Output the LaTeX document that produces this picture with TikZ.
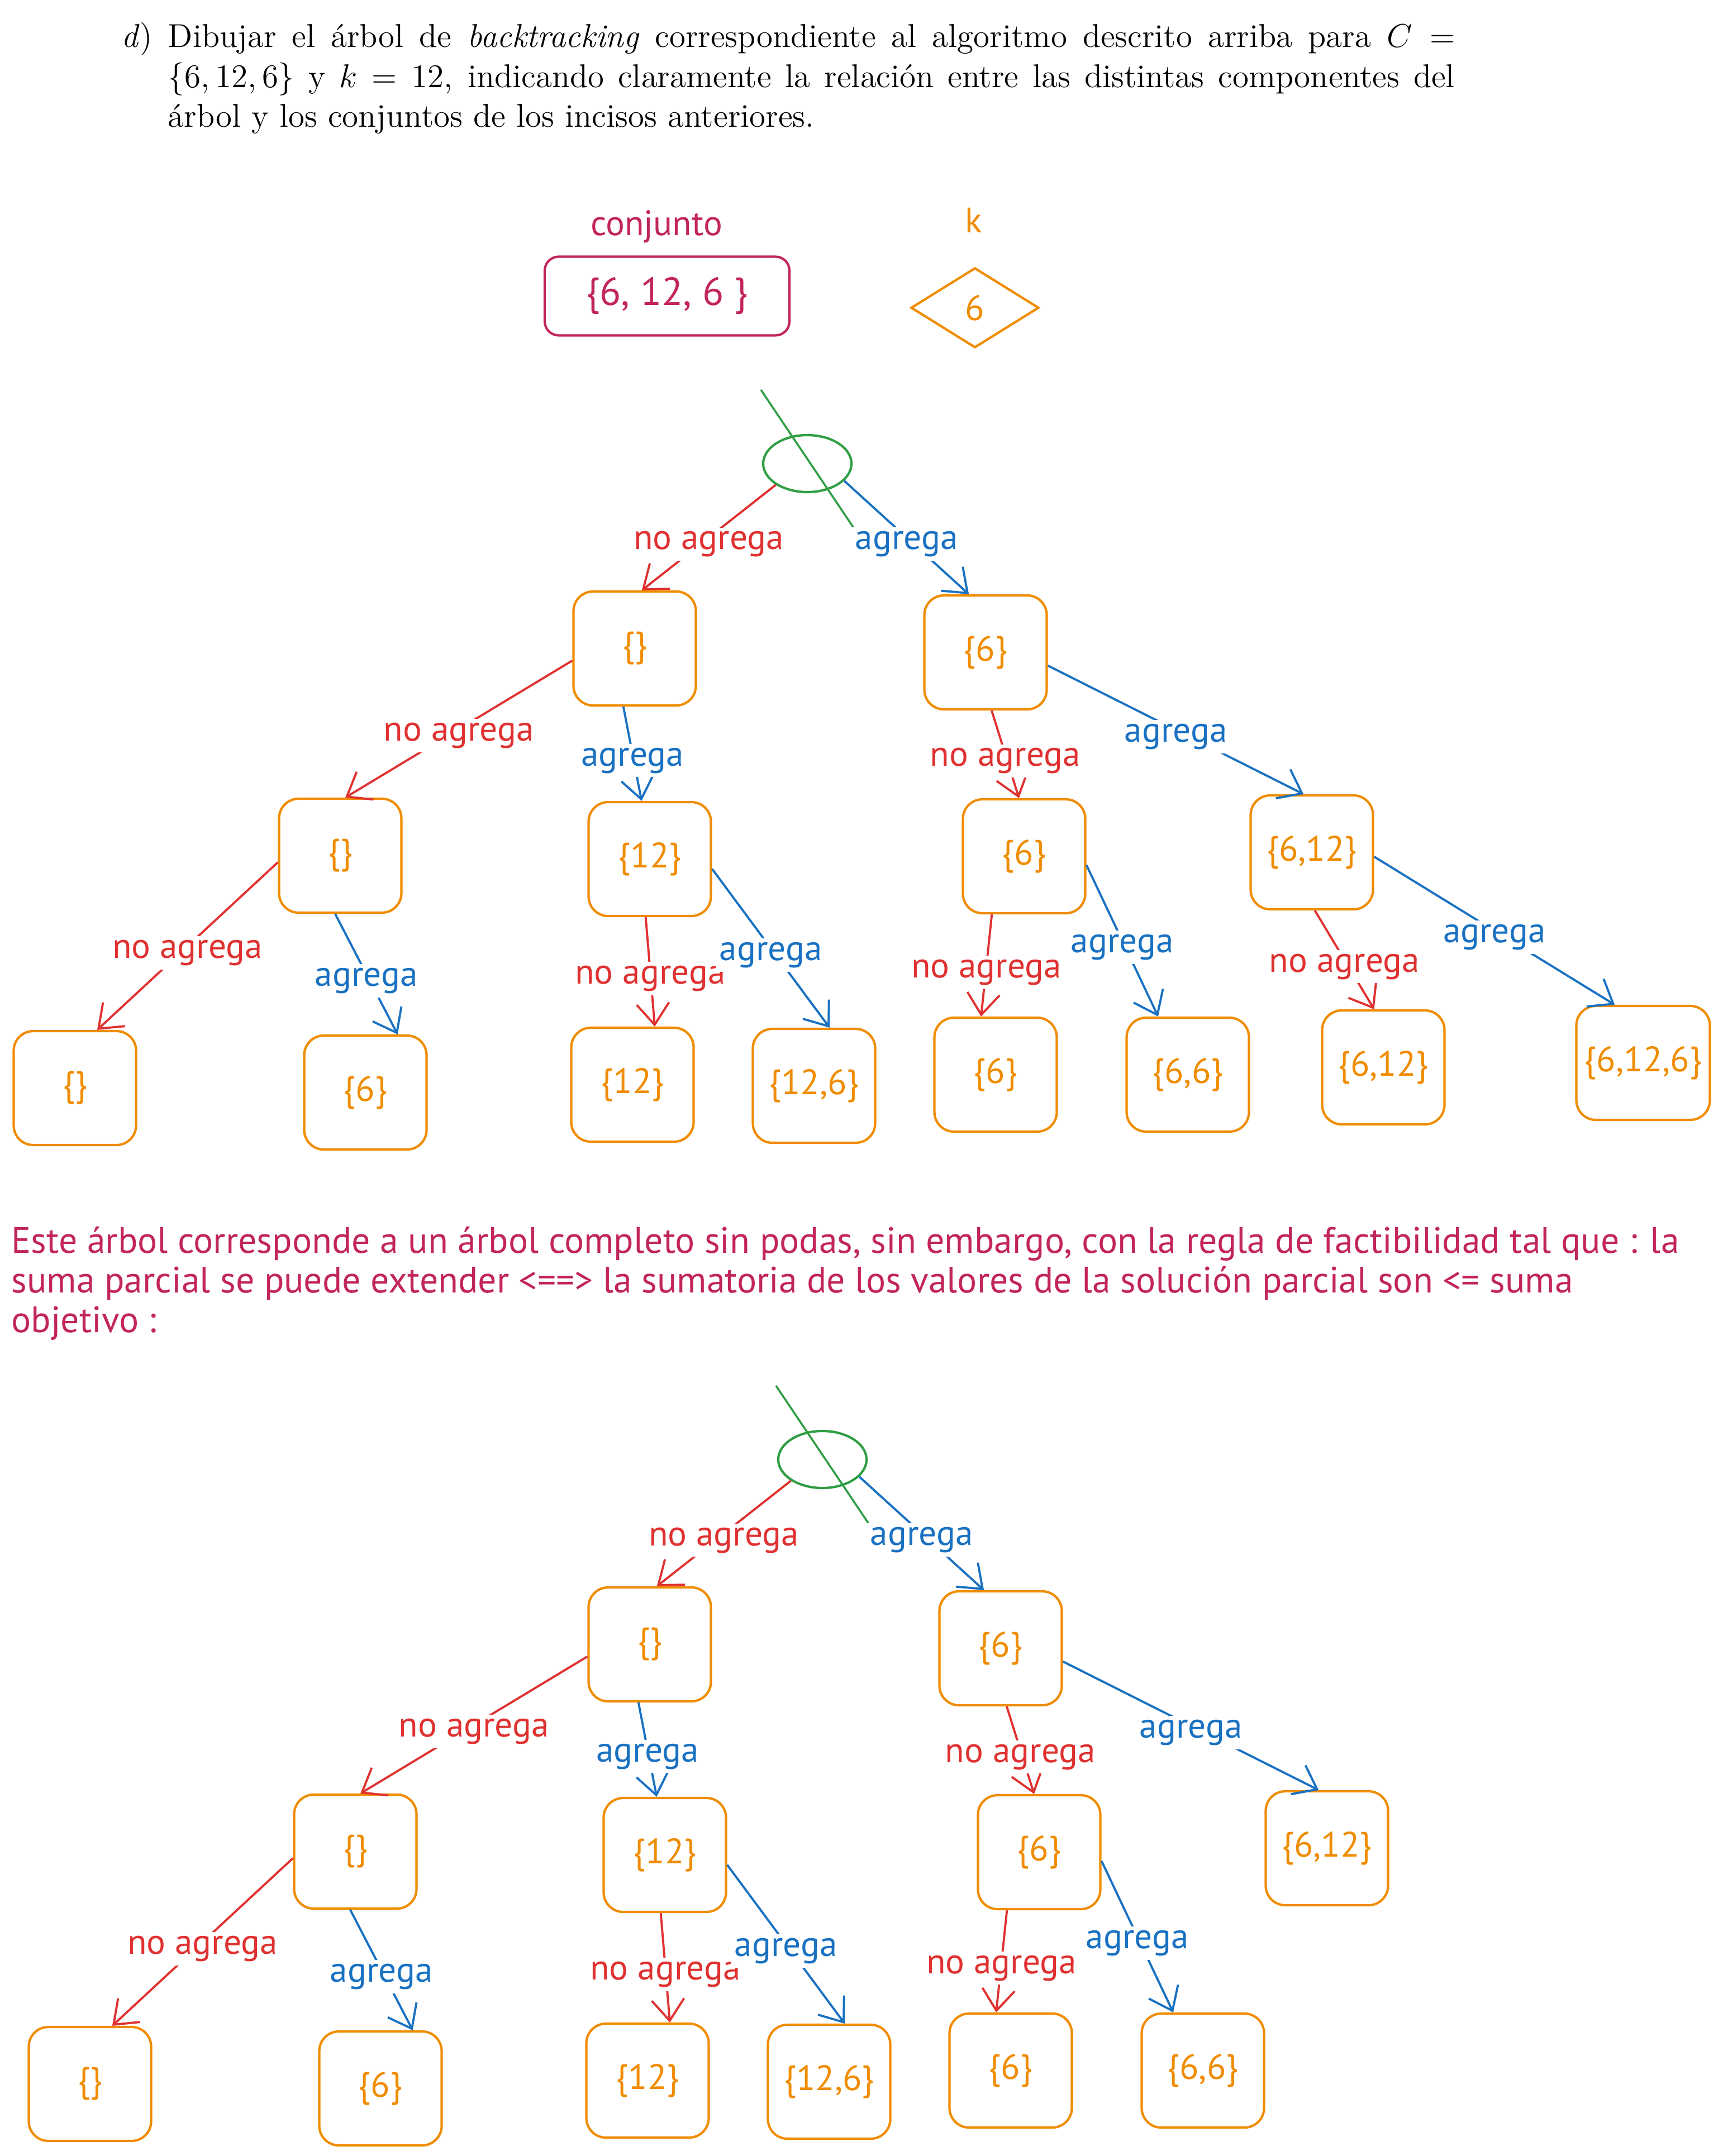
\documentclass[tikz,border=0pt]{standalone}
\usepackage{fontspec}
\newfontfamily\manoalzada{PT Sans}
\usetikzlibrary{arrows.meta,shapes.geometric}
\definecolor{rosa}{HTML}{C2255C}
\definecolor{naranja}{HTML}{F08C00}
\definecolor{rojo}{HTML}{E03131}
\definecolor{azul}{HTML}{1971C2}
\definecolor{verde}{HTML}{2F9E44}
\tikzset{
  caja/.style={draw=naranja,text=naranja,rounded corners=0.35cm,line width=1.2pt,
    minimum width=2.19cm,minimum height=2.04cm,font=\manoalzada\fontsize{18}{20}\selectfont},
  raiz/.style={ellipse,draw=verde,line width=1.2pt,minimum width=1.58cm,minimum height=1.02cm},
  tachado/.style={draw=verde,line width=1pt},
  etiq/.style={fill=white,inner sep=2pt,yshift=-0.12cm,font=\manoalzada\fontsize{18}{20}\selectfont},
  punta/.style={-{Straight Barb[length=3.8mm,width=5.8mm]}},
  noagrega/.style={draw=rojo,line width=1.1pt,punta},
  agrega/.style={draw=azul,line width=1.1pt,punta},
  enunc/.style={inner sep=0,scale=1.4,transform shape,font=\fontsize{12}{14.5}\selectfont}
}
% arbol de backtracking: #1 prefijo de los nombres
\newcommand{\arbolBT}[1]{%
  \node[raiz] (#1r) at (14.45,-8.30) {};
  \coordinate (#1t1) at (13.62,-6.98);
  \coordinate (#1t2) at (15.32,-9.51);
  \draw[tachado] (#1t1) -- (#1t2);
  \node[caja] (#10) at (11.36,-11.61) {\{\}};
  \node[caja] (#11) at (17.64,-11.68) {\{6\}};
  \node[caja] (#100) at (6.09,-15.32) {\{\}};
  \node[caja] (#101) at (11.63,-15.38) {\{12\}};
  \node[caja] (#110) at (18.33,-15.33) {\{6\}};
  \node[caja] (#111) at (23.48,-15.26) {\{6,12\}};
  \node[caja] (#1000) at (1.34,-19.48) {\{\}};
  \node[caja] (#1001) at (6.54,-19.56) {\{6\}};
  \node[caja] (#1010) at (11.32,-19.42) {\{12\}};
  \node[caja] (#1011) at (14.57,-19.44) {\{12,6\}};
  \node[caja] (#1100) at (17.82,-19.24) {\{6\}};
  \node[caja] (#1101) at (21.26,-19.24) {\{6,6\}};
  \draw[noagrega] (#1r.214) -- node[etiq,text=rojo]{no agrega} (#10.83);
  \draw[agrega] (#1r.335) -- node[etiq,text=azul]{agrega} (#11.106);
  \draw[noagrega] (#10.191) -- node[etiq,text=rojo]{no agrega} (#100.85);
  \draw[agrega] (#10.259) -- node[etiq,text=azul]{agrega} (#101.98);
  \draw[noagrega] (#11.276) -- node[etiq,text=rojo]{no agrega} (#110.95);
  \draw[agrega] (#11.348) -- node[etiq,text=azul]{agrega} (#111.98);
  \draw[noagrega] (#100.186) -- node[etiq,text=rojo]{no agrega} (#1000.69);
  \draw[agrega] (#100.265) -- node[etiq,text=azul]{agrega} (#1001.61);
  \draw[noagrega] (#101.266) -- node[etiq,text=rojo]{no agrega} (#1010.69);
  \draw[agrega] (#101.351) -- node[etiq,text=azul]{agrega} (#1011.75);
  \draw[noagrega] (#110.241) -- node[etiq,text=rojo]{no agrega} (#1100.104);
  \draw[agrega] (#110.352) -- node[etiq,text=azul]{agrega} (#1101.117);
}
\begin{document}
\begin{tikzpicture}
\useasboundingbox (0,0) rectangle (30.83,-38.60);
% enunciado
\node[enunc,anchor=base west] (inciso) at (2.17,-0.85) {\textit{d})};
\node[enunc,anchor=base west,text width=16.45cm,align=justify] (enunciado) at (3.00,-0.85)
  {Dibujar el árbol de \textit{backtracking} correspondiente al algoritmo descrito arriba para $C=\{6,12,6\}$ y $k=12$, indicando claramente la relación entre las distintas componentes del árbol y los conjuntos de los incisos anteriores.};
% datos
\node[text=rosa,font=\manoalzada\fontsize{18}{20}\selectfont] (lconj) at (11.75,-4.06) {conjunto};
\node[draw=rosa,text=rosa,rounded corners=0.25cm,line width=1.2pt,minimum width=4.38cm,minimum height=1.41cm,
  font=\manoalzada\fontsize{20}{22}\selectfont] (conj) at (11.94,-5.30) {\{6, 12, 6 \}};
\node[text=naranja,font=\manoalzada\fontsize{18}{20}\selectfont] (lk) at (17.43,-3.94) {k};
\node[diamond,draw=naranja,text=naranja,line width=1.2pt,inner sep=0,minimum width=2.29cm,minimum height=1.43cm,
  font=\manoalzada\fontsize{18}{20}\selectfont] (k) at (17.45,-5.51) {6};
% arbol completo
\arbolBT{a}
\node[caja] (a110) at (24.76,-19.11) {\{6,12\}};
\node[caja,minimum width=2.39cm] (a111) at (29.41,-19.03) {\{6,12,6\}};
\draw[noagrega] (a11.273) -- node[etiq,text=rojo]{no agrega} (a110.99);
\draw[agrega] (a11.356) -- node[etiq,text=azul]{agrega} (a111.116);
% comentario
\node[anchor=north west,inner sep=0,align=left,text=rosa,font=\manoalzada\fontsize{18.7}{20.2}\selectfont] (coment) at (0.20,-21.95)
  {Este árbol corresponde a un árbol completo sin podas, sin embargo, con la regla de factibilidad tal que : la\\
   suma parcial se puede extender <==> la sumatoria de los valores de la solución parcial son <= suma\\
   objetivo :};
% arbol con podas
\begin{scope}[shift={(0.27,-17.83)}]
\arbolBT{b}
\end{scope}
\end{tikzpicture}
\end{document}
